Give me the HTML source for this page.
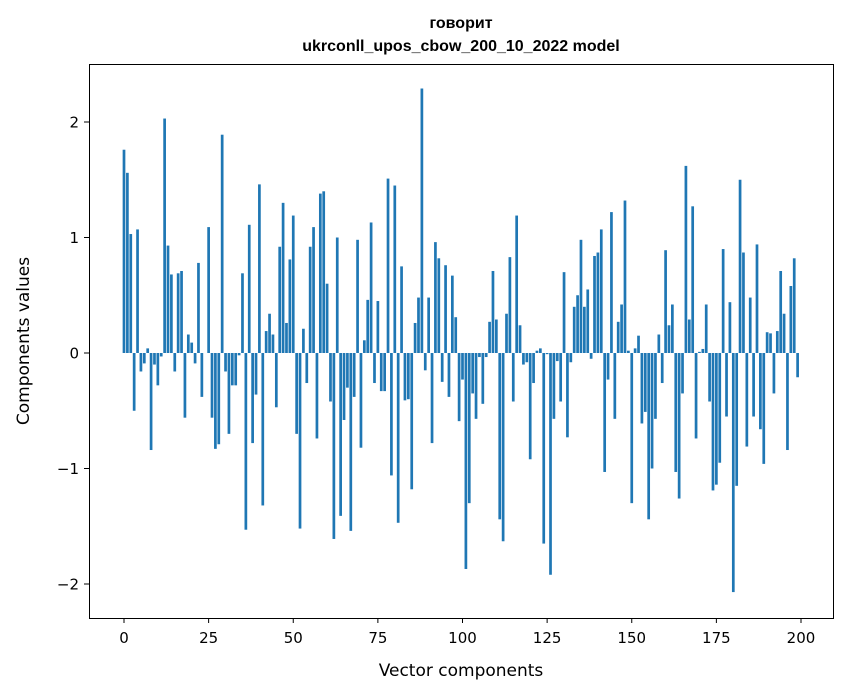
<!DOCTYPE html>
<html><head><meta charset="utf-8"><style>
body{margin:0;background:#fff;}
svg{display:block;font-family:"DejaVu Sans","Liberation Sans",sans-serif;}
</style></head><body>
<svg id="chart" width="847" height="696" viewBox="0 0 847 696">
<rect width="847" height="696" fill="#fff"/>
<text x="461" y="28" text-anchor="middle" font-size="16" font-weight="bold" font-family="'Liberation Sans',sans-serif">говорит</text>
<text x="461" y="51" text-anchor="middle" font-size="16" font-weight="bold" font-family="'Liberation Sans',sans-serif">ukrconll_upos_cbow_200_10_2022 model</text>
<g id="bars"></g>
<g id="xticks"></g>
<g id="yticks"></g>
<rect x="89.5" y="64.5" width="744" height="554" fill="none" stroke="#000" stroke-width="1"/>
<text x="461" y="676" text-anchor="middle" font-size="17">Vector components</text>
<text x="29" y="341" text-anchor="middle" font-size="17" transform="rotate(-90 29 341)">Components values</text>
</svg>
<script>
const values = [1.76,1.56,1.03,-0.50,1.07,-0.16,-0.09,0.04,-0.84,-0.10,
-0.28,-0.03,2.03,0.93,0.68,-0.16,0.69,0.71,-0.56,0.16,
0.09,-0.09,0.78,-0.38,0.0,1.09,-0.56,-0.83,-0.79,1.89,
-0.16,-0.70,-0.28,-0.28,-0.02,0.69,-1.53,1.11,-0.78,-0.36,
1.46,-1.32,0.19,0.34,0.16,-0.47,0.92,1.30,0.26,0.81,
1.19,-0.70,-1.52,0.21,-0.26,0.92,1.09,-0.74,1.38,1.40,
0.60,-0.42,-1.61,1.00,-1.41,-0.58,-0.30,-1.54,-0.38,0.98,
-0.82,0.11,0.46,1.13,-0.26,0.45,-0.33,-0.33,1.51,-1.06,
1.45,-1.47,0.75,-0.41,-0.40,-1.18,0.26,0.48,2.29,-0.15,
0.48,-0.78,0.96,0.82,-0.25,0.76,-0.38,0.67,0.31,-0.59,
-0.23,-1.87,-1.30,-0.35,-0.57,-0.035,-0.44,-0.035,0.27,0.71,
0.29,-1.44,-1.63,0.34,0.83,-0.42,1.19,0.24,-0.10,-0.08,
-0.92,-0.26,0.02,0.04,-1.65,-0.01,-1.92,-0.57,-0.07,-0.42,
0.70,-0.73,-0.08,0.40,0.50,0.98,0.40,0.55,-0.05,0.84,
0.87,1.07,-1.03,-0.23,1.22,-0.57,0.27,0.42,1.32,0.02,
-1.30,0.04,0.15,-0.61,-0.51,-1.44,-1.00,-0.57,0.16,-0.26,
0.89,0.24,0.42,-1.03,-1.26,-0.35,1.62,0.29,1.27,-0.74,
0.01,0.035,0.42,-0.42,-1.19,-1.14,-0.95,0.90,-0.55,0.44,
-2.07,-1.15,1.50,0.87,-0.81,0.48,-0.55,0.94,-0.66,-0.96,
0.18,0.17,-0.35,0.19,0.71,0.34,-0.84,0.58,0.82,-0.21];
const xTickValues = [0,25,50,75,100,125,150,175,200];
const yTickValues = [-2,-1,0,1,2];
const yTickLabels = ["\u22122","\u22121","0","1","2"];

const NS="http://www.w3.org/2000/svg";
function xScale(v){return 124 + v*(801-124)/200;}
function yScale(v){return 353 - v*115.5;}
const barsG=document.getElementById('bars');
const bw=0.8*(801-124)/200;
values.forEach((v,i)=>{
  const r=document.createElementNS(NS,'rect');
  const y0=yScale(0), y1=yScale(v);
  r.setAttribute('x',xScale(i)-bw/2);
  r.setAttribute('width',bw);
  r.setAttribute('y',Math.min(y0,y1));
  r.setAttribute('height',Math.abs(y1-y0));
  r.setAttribute('fill','#1f77b4');
  
  
  barsG.appendChild(r);
});
const xg=document.getElementById('xticks');
xTickValues.forEach(t=>{
  const x=xScale(t);
  const l=document.createElementNS(NS,'line');
  l.setAttribute('x1',x);l.setAttribute('x2',x);l.setAttribute('y1',618);l.setAttribute('y2',623);
  l.setAttribute('stroke','#000');
  
  
  xg.appendChild(l);
  const tx=document.createElementNS(NS,'text');
  tx.setAttribute('x',x);tx.setAttribute('y',643);tx.setAttribute('text-anchor','middle');tx.setAttribute('font-size','15');
  tx.textContent=t;
  
  
  xg.appendChild(tx);
});
const yg=document.getElementById('yticks');
yTickValues.forEach((t,i)=>{
  const y=yScale(t);
  const l=document.createElementNS(NS,'line');
  l.setAttribute('x1',84);l.setAttribute('x2',89);l.setAttribute('y1',y);l.setAttribute('y2',y);
  l.setAttribute('stroke','#000');
  
  
  yg.appendChild(l);
  const tx=document.createElementNS(NS,'text');
  tx.setAttribute('x',79);tx.setAttribute('y',y+5.5);tx.setAttribute('text-anchor','end');tx.setAttribute('font-size','15');
  tx.textContent=yTickLabels[i];
  
  
  yg.appendChild(tx);
});
</script>
</body></html>
